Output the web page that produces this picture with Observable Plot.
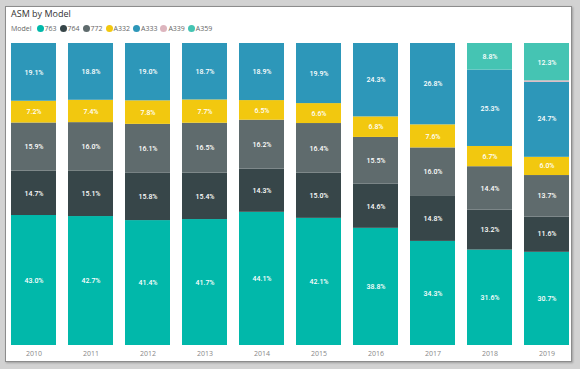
<!DOCTYPE html>
<html>
<head>
<meta charset="utf-8">
<script src="https://cdn.jsdelivr.net/npm/d3@7"></script>
<script src="https://cdn.jsdelivr.net/npm/@observablehq/plot@0.6"></script>
<style>
  html, body { margin: 0; padding: 0; }
  body { width: 580px; height: 369px; background: #d2d2d2; overflow: hidden; font-family: "Open Sans", "Noto Sans", sans-serif; }
  #wrap { position: relative; width: 580px; height: 369px; }
  #panel { position: absolute; left: 5px; top: 6px; width: 565px; height: 354px; background: #fff; border: 1px solid #8c8c8c; box-shadow: 1px 1px 2px rgba(0,0,0,0.25); }
  #title { position: absolute; left: 11px; top: 7px; font-size: 9px; color: #333; }
  #legend { position: absolute; left: 11px; top: 24px; font-size: 7px; color: #666; display: flex; align-items: center; white-space: nowrap; }
  #legend .lab { margin-right: 5px; }
  #legend .it { display: flex; align-items: center; margin-right: 3px; }
  #legend .dot { width: 7px; height: 7px; border-radius: 50%; margin-right: 1px; }
  #chart { position: absolute; left: 0; top: 0; }
</style>
</head>
<body>
<div id="wrap">
  <div id="panel"></div>
  <div id="title">ASM by Model</div>
  <div id="legend"></div>
  <div id="chart"></div>
</div>
<script>
const years = ["2010","2011","2012","2013","2014","2015","2016","2017","2018","2019"];
const models = ["763","764","772","A332","A333","A339","A359"];
const colors = ["#01B8AA","#374649","#5F6B6D","#F2C80F","#2D97B9","#DDB5BE","#45C4B3"];
const s763  = [43.0, 42.7, 41.4, 41.7, 44.1, 42.1, 38.8, 34.3, 31.6, 30.7];
const s764  = [14.7, 15.1, 15.8, 15.4, 14.3, 15.0, 14.6, 14.8, 13.2, 11.6];
const s772  = [15.9, 16.0, 16.1, 16.5, 16.2, 16.4, 15.5, 16.0, 14.4, 13.7];
const sA332 = [7.2, 7.4, 7.8, 7.7, 6.5, 6.6, 6.8, 7.6, 6.7, 6.0];
const sA333 = [19.1, 18.8, 19.0, 18.7, 18.9, 19.9, 24.3, 26.8, 25.3, 24.7];
const sA339 = [0, 0, 0, 0, 0, 0, 0, 0, 0, 0.5];
const sA359 = [0, 0, 0, 0, 0, 0, 0, 0, 8.8, 12.3];

const series = [s763, s764, s772, sA332, sA333, sA339, sA359];
const rows = [];
models.forEach((m, i) => years.forEach((y, j) => {
  if (series[i][j] > 0) rows.push({year: y, model: m, value: series[i][j]});
}));

// legend
const leg = document.getElementById("legend");
leg.innerHTML = '<span class="lab">Model</span>' + models.map((m, i) =>
  `<span class="it"><span class="dot" style="background:${colors[i]}"></span>${m}</span>`).join("");

const chart = Plot.plot({
  width: 580,
  height: 369,
  marginLeft: 11,
  marginRight: 10,
  marginTop: 43,
  marginBottom: 24,
  style: {background: "transparent", fontFamily: "Open Sans, sans-serif"},
  x: {domain: years, label: null, paddingInner: 0.21, paddingOuter: 0},
  y: {axis: null, domain: [0, 1]},
  color: {domain: models, range: colors},
  marks: [
    Plot.barY(rows, Plot.stackY({x: "year", y: "value", z: "model", fill: "model", offset: "normalize", order: models})),
    Plot.text(rows.filter(d => d.value >= 2), Plot.stackY({
      x: "year", y: "value", z: "model", offset: "normalize", order: models,
      text: d => d.value.toFixed(1) + "%",
      fill: "white", fontSize: 7, fontWeight: 500, fontFamily: "Roboto, sans-serif"
    })),
    Plot.axisX({tickSize: 0, tickPadding: 6, fontSize: 7, color: "#888", label: null})
  ]
});
document.getElementById("chart").appendChild(chart);
</script>
</body>
</html>
